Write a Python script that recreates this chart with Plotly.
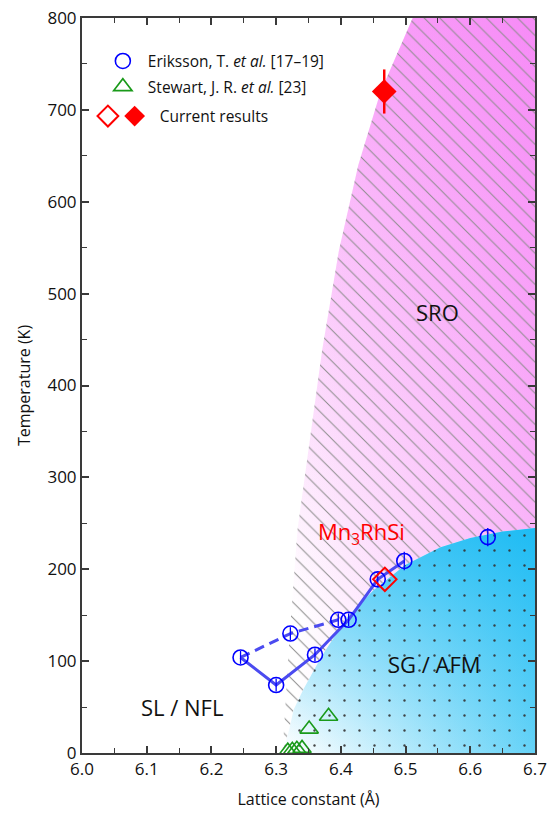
import plotly.graph_objects as go

# ---------------- data ----------------
# Eriksson, T. et al. [17-19]
eri_a = [6.245, 6.300, 6.322, 6.360, 6.396, 6.412, 6.457, 6.498, 6.627]
eri_T = [104, 74, 130, 107, 145, 145, 189, 209, 235]
eri_err = [7, 7, 7, 7, 7, 7, 7, 10, 10]
# connecting lines (indices into eriksson arrays)
solid_idx = [0, 1, 3, 5, 6, 7]
dashed_idx = [0, 2, 4]

# Stewart, J. R. et al. [23]
ste_a = [6.318, 6.325, 6.332, 6.340, 6.351, 6.381]
ste_T = [2, 3, 4, 5, 26, 40]

# Current results
open_a = [6.468]
open_T = [189]
full_a = [6.467]
full_T = [720]
full_err = [24]

# SRO region left boundary (T -> a)
sro_T = [0, 120, 243, 330, 438, 547, 640, 719, 800]
sro_a = [6.310, 6.320, 6.333, 6.350, 6.371, 6.397, 6.427, 6.461, 6.511]

# SG/AFM region upper boundary (a -> T)
sg_a = [6.310, 6.320, 6.327, 6.342, 6.370, 6.410, 6.450, 6.500, 6.554, 6.600, 6.650, 6.700]
sg_T = [0, 25, 47, 69, 105, 148, 177, 205, 224, 234, 241, 245]

x_ticks = [6.0, 6.1, 6.2, 6.3, 6.4, 6.5, 6.6, 6.7]
y_ticks = [0, 100, 200, 300, 400, 500, 600, 700, 800]

FONT = "Open Sans"
AX = "#3a3a3a"

fig = go.Figure()

# ---- SRO polygon ----
sro_poly_x = sro_a + [6.7, 6.7] + sg_a[::-1]
sro_poly_y = sro_T + [800, sg_T[-1]] + sg_T[::-1]

fig.add_trace(go.Scatter(
    x=sro_poly_x, y=sro_poly_y, mode="lines", fill="toself",
    line=dict(width=0), hoverinfo="skip", showlegend=False,
    fillgradient=dict(type="vertical", start=150, stop=800,
                      colorscale=[[0, "rgb(255,255,255)"], [1, "rgb(249,170,249)"]])))
fig.add_trace(go.Scatter(
    x=sro_poly_x, y=sro_poly_y, mode="lines", fill="toself",
    line=dict(width=0), hoverinfo="skip", showlegend=False,
    fillgradient=dict(type="horizontal", start=6.33, stop=6.7,
                      colorscale=[[0, "rgba(244,100,244,0)"], [1, "rgba(244,100,244,0.45)"]])))
fig.add_trace(go.Scatter(
    x=sro_poly_x, y=sro_poly_y, mode="lines", fill="toself",
    line=dict(width=0), hoverinfo="skip", showlegend=False,
    fillcolor="rgba(0,0,0,0)",
    fillpattern=dict(shape="\\", size=11, solidity=0.09,
                     fgcolor="#8c8c8c", bgcolor="rgba(0,0,0,0)", fgopacity=1)))

# ---- SG/AFM polygon ----
sg_poly_x = sg_a + [6.7, sg_a[0]]
sg_poly_y = sg_T + [0, 0]

fig.add_trace(go.Scatter(
    x=sg_poly_x, y=sg_poly_y, mode="lines", fill="toself",
    line=dict(width=0), hoverinfo="skip", showlegend=False,
    fillgradient=dict(type="horizontal", start=6.32, stop=6.7,
                      colorscale=[[0, "rgb(255,255,255)"], [1, "rgb(100,210,247)"]])))
fig.add_trace(go.Scatter(
    x=sg_poly_x, y=sg_poly_y, mode="lines", fill="toself",
    line=dict(width=0), hoverinfo="skip", showlegend=False,
    fillgradient=dict(type="vertical", start=0, stop=245,
                      colorscale=[[0, "rgba(0,178,242,0)"], [1, "rgba(0,178,242,0.7)"]])))
fig.add_trace(go.Scatter(
    x=sg_poly_x, y=sg_poly_y, mode="lines", fill="toself",
    line=dict(width=0), hoverinfo="skip", showlegend=False,
    fillcolor="rgba(0,0,0,0)",
    fillpattern=dict(shape=".", size=15, solidity=0.02,
                     fgcolor="#333333", bgcolor="rgba(0,0,0,0)", fgopacity=0.9)))

# ---- connecting lines ----
LINE_C = "#4b4bf0"
fig.add_trace(go.Scatter(
    x=[eri_a[i] for i in solid_idx], y=[eri_T[i] for i in solid_idx],
    mode="lines", line=dict(color=LINE_C, width=3), showlegend=False, hoverinfo="skip"))
fig.add_trace(go.Scatter(
    x=[eri_a[i] for i in dashed_idx], y=[eri_T[i] for i in dashed_idx],
    mode="lines", line=dict(color=LINE_C, width=3, dash="10px,6px"),
    showlegend=False, hoverinfo="skip"))

# ---- markers ----
fig.add_trace(go.Scatter(
    x=eri_a, y=eri_T, mode="markers", name="Eriksson, T. <i>et al.</i> [17–19]",
    marker=dict(symbol="circle-open", size=15, color="#0000ff", line=dict(width=1.6)),
    error_y=dict(type="data", array=eri_err, width=0, thickness=1.3, color="#0000ff"),
    legend="legend"))
fig.add_trace(go.Scatter(
    x=ste_a, y=ste_T, mode="markers", name="Stewart, J. R. <i>et al.</i> [23]",
    marker=dict(symbol="triangle-up-open", size=16, color="#1a9a1a", line=dict(width=1.6)),
    legend="legend2"))
fig.add_trace(go.Scatter(
    x=open_a, y=open_T, mode="markers", name="",
    marker=dict(symbol="diamond-open", size=18, color="#ff0000", line=dict(width=2)),
    legend="legend3"))
fig.add_trace(go.Scatter(
    x=full_a, y=full_T, mode="markers", name="Current results",
    marker=dict(symbol="diamond", size=19, color="#ff0000"),
    error_y=dict(type="data", array=full_err, width=0, thickness=2.5, color="#ff0000"),
    legend="legend4"))

# ---- labels ----
lab_font = dict(family=FONT, size=22, color="#111111")
fig.add_annotation(x=6.55, y=480, text="SRO", showarrow=False, font=lab_font)
fig.add_annotation(x=6.545, y=97, text="SG / AFM", showarrow=False, font=lab_font)
fig.add_annotation(x=6.155, y=50, text="SL / NFL", showarrow=False, font=lab_font)
fig.add_annotation(x=6.432, y=240, text="Mn<sub>3</sub>RhSi", showarrow=False,
                   font=dict(family=FONT, size=22, color="#ff0000"))

# ---- axes ----
axis_common = dict(showline=True, linecolor=AX, linewidth=2, mirror="allticks",
                   ticks="inside", ticklen=7, tickwidth=1.5, tickcolor=AX,
                   showgrid=False, zeroline=False, automargin=False,
                   tickfont=dict(family=FONT, size=17, color="#111111"))
fig.update_xaxes(range=[6.0, 6.7], tickvals=x_ticks,
                 ticktext=[f"{v:.1f}" for v in x_ticks],
                 minor=dict(ticks="inside", ticklen=5, dtick=0.05, tickcolor=AX, tickwidth=1.2),
                 title=dict(text="Lattice constant (Å)", font=dict(family=FONT, size=16, color="#111111"),
                            standoff=14),
                 **axis_common)
fig.update_yaxes(range=[0, 800], tickvals=y_ticks,
                 ticktext=[str(v) for v in y_ticks],
                 minor=dict(ticks="inside", ticklen=5, dtick=50, tickcolor=AX, tickwidth=1.2),
                 title=dict(text="Temperature (K)", font=dict(family=FONT, size=16, color="#111111"),
                            standoff=13),
                 **axis_common)

leg_font = dict(family=FONT, size=15.5, color="#111111")
leg_common = dict(bgcolor="rgba(0,0,0,0)", font=leg_font, xanchor="left", yanchor="middle",
                  itemsizing="trace", borderwidth=0, itemwidth=40)
fig.update_layout(
    width=549, height=817,
    margin=dict(l=82, r=14, t=18, b=64),
    paper_bgcolor="white", plot_bgcolor="white",
    legend=dict(x=0.035, y=0.941, **leg_common),
    legend2=dict(x=0.035, y=0.906, **leg_common),
    legend3=dict(x=0.002, y=0.866, **leg_common),
    legend4=dict(x=0.061, y=0.866, **leg_common),
)

fig.write_html("out.html")
